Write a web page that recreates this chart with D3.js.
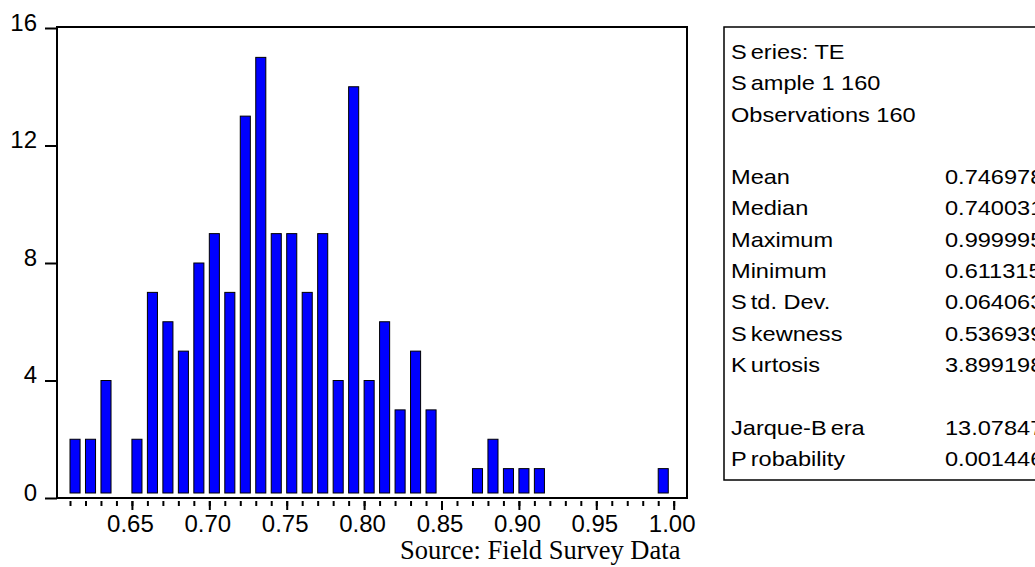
<!DOCTYPE html>
<html>
<head>
<meta charset="utf-8">
<script src="https://cdn.jsdelivr.net/npm/d3@7"></script>
<style>
  html, body { margin: 0; padding: 0; background: #fff; overflow: hidden; }
  svg { display: block; }
</style>
</head>
<body>
<svg id="chart" width="1035" height="567"></svg>
<script>
// histogram bins (left edge) and counts
const binStarts = [0.61, 0.62, 0.63, 0.64, 0.65, 0.66, 0.67, 0.68, 0.69, 0.70,
  0.71, 0.72, 0.73, 0.74, 0.75, 0.76, 0.77, 0.78, 0.79, 0.80,
  0.81, 0.82, 0.83, 0.84, 0.85, 0.86, 0.87, 0.88, 0.89, 0.90,
  0.91, 0.92, 0.93, 0.94, 0.95, 0.96, 0.97, 0.98, 0.99]
const counts = [2, 2, 4, 0, 2, 7, 6, 5, 8, 9,
  7, 13, 15, 9, 9, 7, 9, 4, 14, 4,
  6, 3, 5, 3, 0, 0, 1, 2, 1, 1,
  1, 0, 0, 0, 0, 0, 0, 0, 1]
const binWidth = 0.01

const xMajorTicks = [0.65, 0.70, 0.75, 0.80, 0.85, 0.90, 0.95, 1.00]
const yTicks = [0, 4, 8, 12, 16]

// stats panel
const headerLines = ['Series: TE', 'Sample 1 160', 'Observations 160']
const statLabels = ['Mean', 'Median', 'Maximum', 'Minimum', 'Std. Dev.', 'Skewness', 'Kurtosis']
const statValues = ['0.746978', '0.740031', '0.999995', '0.611315', '0.064063', '0.536939', '3.899198']
const testLabels = ['Jarque-Bera', 'Probability']
const testValues = ['13.07847', '0.001446']

const sourceNote = 'Source: Field Survey Data'

const plot = { left: 57, right: 687, top: 28, bottom: 498 }
const sansFont = '"Liberation Sans", Arial, sans-serif'

const svg = d3.select('#chart')

const x = d3.scaleLinear()
  .domain([0.6016, 1.0086])
  .range([plot.left, plot.right])

const y = d3.scaleLinear()
  .domain([0, 16])
  .range([plot.bottom, plot.top])

// bars
const barW = (x(binWidth) - x(0)) * 0.65
const barBase = y(0) - 5
const bins = binStarts.map((b, i) => ({ start: b, n: counts[i] })).filter(d => d.n > 0)

svg.append('g')
  .selectAll('rect')
  .data(bins)
  .join('rect')
  .attr('x', d => x(d.start))
  .attr('y', d => y(d.n))
  .attr('width', barW)
  .attr('height', d => barBase - y(d.n))
  .attr('fill', '#0000ff')
  .attr('stroke', '#000')
  .attr('stroke-width', 1)

// frame
svg.append('rect')
  .attr('x', plot.left)
  .attr('y', y(16) - 1)
  .attr('width', plot.right - plot.left)
  .attr('height', y(0) - y(16) + 1)
  .attr('fill', 'none')
  .attr('stroke', '#000')
  .attr('stroke-width', 2)

// y axis
const yAxis = svg.append('g')
  .attr('transform', `translate(${plot.left},0)`)
  .call(d3.axisLeft(y).tickValues(yTicks).tickSize(12).tickPadding(8))
yAxis.select('.domain').remove()
yAxis.selectAll('line').attr('stroke', '#000').attr('stroke-width', 2)
yAxis.selectAll('text')
  .attr('dy', '0.1em')
  .attr('fill', '#000')
  .style('font-family', sansFont)
  .style('font-size', '24px')

// x axis: minor ticks at every bin edge, labelled majors
const minorTicks = binStarts.concat([1.00])
const xMinor = svg.append('g')
  .attr('transform', `translate(0,${plot.bottom + 3})`)
  .call(d3.axisBottom(x).tickValues(minorTicks).tickSize(5).tickFormat(''))
xMinor.select('.domain').remove()
xMinor.selectAll('line').attr('stroke', '#000').attr('stroke-width', 2)

const xMajor = svg.append('g')
  .attr('transform', `translate(0,${plot.bottom + 3})`)
  .call(d3.axisBottom(x).tickValues(xMajorTicks).tickSize(9).tickPadding(5).tickFormat(d3.format('.2f')))
xMajor.select('.domain').remove()
xMajor.selectAll('line').attr('stroke', '#000').attr('stroke-width', 2)
xMajor.selectAll('text')
  .attr('dx', '-2')
  .attr('fill', '#000')
  .style('font-family', sansFont)
  .style('font-size', '24px')

// source note
svg.append('text')
  .attr('x', 400)
  .attr('y', 559)
  .attr('fill', '#000')
  .style('font-family', '"Liberation Serif", "Times New Roman", serif')
  .style('font-size', '26.5px')
  .text(sourceNote)

// stats panel
const panel = { left: 724, top: 27, bottom: 480, textX: 731, valueX: 945, firstLine: 59, lineH: 31.3, stretch: 1.15 }

svg.append('rect')
  .attr('x', panel.left)
  .attr('y', panel.top)
  .attr('width', 400)
  .attr('height', panel.bottom - panel.top)
  .attr('fill', '#fff')
  .attr('stroke', '#000')
  .attr('stroke-width', 1.5)

// EViews leaves a small gap after some leading capitals
const gapAfter = { 'Series: TE': 1, 'Sample 1 160': 1, 'Std. Dev.': 1, 'Skewness': 1, 'Kurtosis': 1, 'Jarque-Bera': 8, 'Probability': 1 }

const rows = []
headerLines.forEach((t, i) => rows.push({ row: i, label: t, value: '' }))
statLabels.forEach((t, i) => rows.push({ row: 4 + i, label: t, value: statValues[i] }))
testLabels.forEach((t, i) => rows.push({ row: 12 + i, label: t, value: testValues[i] }))

// the panel font is a little wider than plain Arial
const labelG = svg.append('g')
  .attr('transform', `translate(${panel.textX},0) scale(${panel.stretch},1)`)
  .style('font-family', sansFont)
  .style('font-size', '20.5px')
  .attr('fill', '#000')
const valueG = svg.append('g')
  .attr('transform', `translate(${panel.valueX},0) scale(${panel.stretch},1)`)
  .style('font-family', sansFont)
  .style('font-size', '20.5px')
  .attr('fill', '#000')

rows.forEach(r => {
  const yy = panel.firstLine + r.row * panel.lineH
  const t = labelG.append('text').attr('x', 0).attr('y', yy)
  const k = gapAfter[r.label]
  if (k) {
    t.append('tspan').text(r.label.slice(0, k))
    t.append('tspan').attr('dx', 3.5).text(r.label.slice(k))
  } else {
    t.text(r.label)
  }
  if (r.value) {
    valueG.append('text').attr('x', 0).attr('y', yy).text(r.value)
  }
})
</script>
</body>
</html>
